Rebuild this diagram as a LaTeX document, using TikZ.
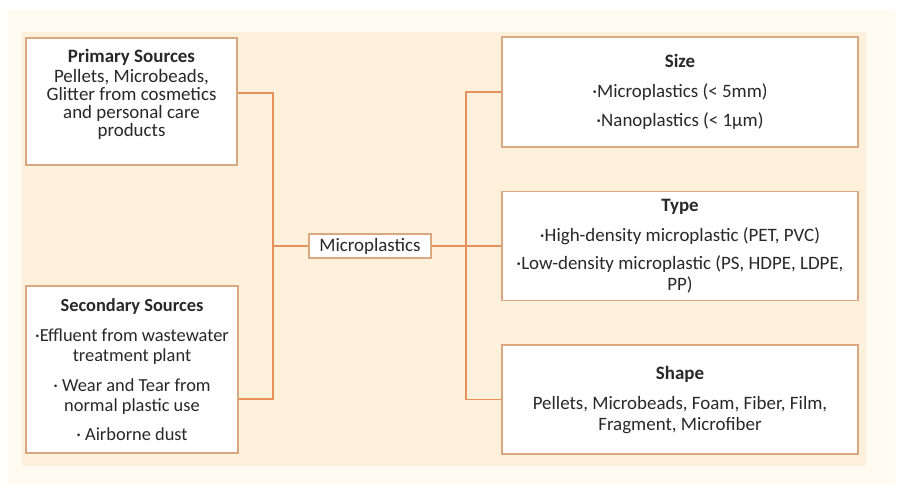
\documentclass[tikz,border=0pt]{standalone}
\usepackage{fontspec}
\setmainfont{Carlito}
\definecolor{pagebg}{RGB}{255,251,241}
\definecolor{panelbg}{RGB}{254,241,219}
\definecolor{boxline}{RGB}{218,168,128}
\definecolor{connline}{RGB}{230,145,90}
\definecolor{ink}{RGB}{40,40,40}

\begin{document}
\begin{tikzpicture}[x=0.75pt, y=-0.75pt,
  every node/.style={font=\fontsize{14.2}{15.75}\selectfont, text=ink},
  infobox/.style={draw=boxline, line width=1.1pt, fill=white, align=center, inner sep=0pt},
  conn/.style={draw=connline, line width=1pt}]

  % page and panel backgrounds
  \fill[white] (0,0) rectangle (903,493);
  \fill[pagebg] (7,10) rectangle (895,484);
  \fill[panelbg] (22,32) rectangle (866,466);
  \useasboundingbox (0,0) rectangle (903,493);

  % sources (left)
  \node[infobox, minimum width=158.25pt, minimum height=95.25pt,
        font=\fontsize{14.2}{13.5}\selectfont] (prim) at (131.5,101.5)
    {\textbf{Primary Sources}\\[1.5pt]
     Pellets, Microbeads,\\ Glitter from cosmetics\\ and personal care\\ products\\[-1pt]\mbox{}};
  \node[infobox, minimum width=159pt, minimum height=125.25pt,
        font=\fontsize{13.8}{15}\selectfont] (sec) at (132,369.5)
    {\textbf{Secondary Sources}\\[7.5pt]
     ·Effluent from wastewater\\ treatment plant\\[7.5pt]
     · Wear and Tear from\\ normal plastic use\\[7pt]
     · Airborne dust};

  % central node
  \node[infobox, minimum width=91.5pt, minimum height=18pt] (micro) at (370,246) {Microplastics};

  % classification (right)
  \node[infobox, minimum width=267pt, minimum height=82.5pt] (size) at (680,92)
    {\textbf{Size}\\[6.75pt]
     ·Microplastics (< 5mm)\\[6.25pt]
     ·Nanoplastics (< 1μm)};
  \node[infobox, minimum width=267pt, minimum height=81.75pt] (type) at (680,246)
    {\textbf{Type}\\[6.75pt]
     ·High-density microplastic (PET, PVC)\\[5.25pt]
     ·Low-density microplastic (PS, HDPE, LDPE,\\ PP)};
  \node[infobox, minimum width=267pt, minimum height=81.75pt] (shape) at (680,399.5)
    {\textbf{Shape}\\[6.75pt]
     Pellets, Microbeads, Foam, Fiber, Film,\\ Fragment, Microfiber};

  % connectors
  \coordinate (jl) at (273,246);
  \coordinate (jr) at (466,246);
  \draw[conn] ([yshift=6.4pt]prim.east) -| (jl) |- ([yshift=-22.1pt]sec.east);
  \draw[conn] (jl) -- (micro.west);
  \draw[conn] (size.west) -| (jr) |- (shape.west);
  \draw[conn] (micro.east) -- (type.west);
\end{tikzpicture}
\end{document}
